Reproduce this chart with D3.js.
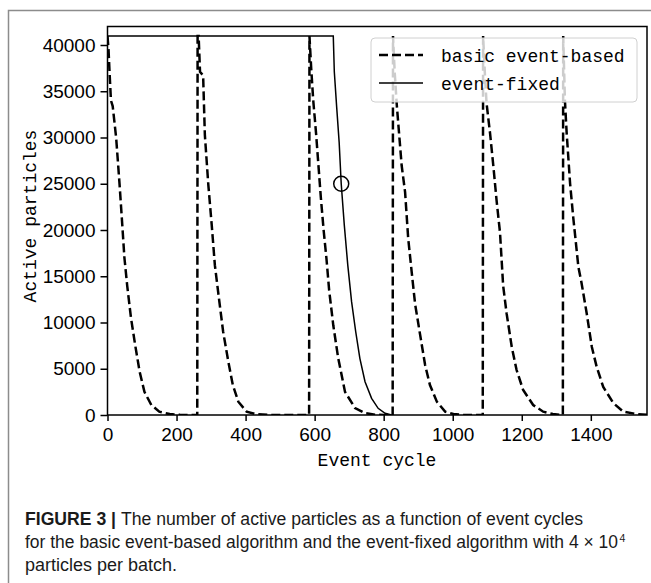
<!DOCTYPE html>
<html>
<head>
<meta charset="UTF-8">
<style>
  body { margin: 0; background: #fff; }
  svg { display: block; }
</style>
</head>
<body>
<svg></svg>
<script src="https://d3js.org/d3.v7.min.js"></script>
<script>

// ---- data ----
const basicCycles = [0, 3, 6, 10, 15, 25, 35, 42, 49, 57, 68, 80, 93, 107, 127, 150, 180, 210, 260,
  261, 264, 268, 277, 282, 292, 302, 311, 324, 335, 350, 363, 379, 403, 432, 470, 584,
  585, 590, 596, 604, 612, 618, 626, 634, 642, 654, 668, 688, 717, 746, 775, 800, 826,
  827, 832, 838, 852, 862, 871, 881, 891, 905, 920, 934, 954, 978, 1002, 1030, 1087,
  1088, 1093, 1098, 1108, 1118, 1127, 1137, 1146, 1156, 1171, 1185, 1204, 1233, 1262, 1290, 1318, 1319,
  1320, 1325, 1330, 1340, 1349, 1364, 1373, 1388, 1403, 1417, 1436, 1465, 1494, 1533, 1563];
const basicCounts = [40960, 39500, 37000, 34000, 33400, 30000, 24900, 21000, 17000, 14000, 10500, 7600, 4700, 2500, 1080, 360, 100, 20, 0,
  40960, 40960, 37100, 36700, 30300, 24900, 20500, 16200, 12250, 9000, 5760, 3240, 1440, 360, 80, 10, 0,
  40960, 37500, 34000, 30500, 26500, 23500, 20000, 17000, 13500, 9700, 6200, 2500, 750, 200, 40, 5, 0,
  40960, 37000, 33500, 27000, 24100, 19100, 15500, 12000, 8800, 5400, 3240, 1440, 360, 100, 10, 0,
  40960, 37000, 33700, 30500, 26800, 23200, 19700, 14000, 11000, 7350, 4860, 2700, 1080, 360, 100, 5, 0,
  40960, 34000, 30500, 25000, 21400, 16000, 14300, 11000, 7350, 5200, 3030, 1300, 360, 100, 20];

const fixedCycles = [0, 654, 657, 664, 671, 677, 686, 696, 707, 719, 731, 746, 765, 784, 804, 823];
const fixedCounts = [40960, 40960, 37100, 33200, 29500, 25000, 20500, 16200, 12250, 9000, 6130, 3600, 1800, 720, 180, 0];

const markerPoint = [677, 25000];
const xTicks = [0, 200, 400, 600, 800, 1000, 1200, 1400];
const yTicks = [0, 5000, 10000, 15000, 20000, 25000, 30000, 35000, 40000];
const seriesNames = ["basic event-based", "event-fixed"];
const captionLines = [
  ["FIGURE 3 | ", "The number of active particles as a function of event cycles"],
  ["", "for the basic event-based algorithm and the event-fixed algorithm with 4 \u00d7 10"],
  ["", "particles per batch."]
];

let width = 651, height = 583;
let svg = d3.select("svg").attr("width", width).attr("height", height);

let plot = {left: 107.5, right: 647, top: 26.5, bottom: 415};

let x = d3.scaleLinear().domain([0, 1561]).range([plot.left, 646.4]);
let y = d3.scaleLinear().domain([0, 42000]).range([plot.bottom, plot.top]);

// figure frame (top and left rule)
svg.append("path")
  .attr("d", `M8.5,${height} V10.5 H${width}`)
  .attr("fill", "none")
  .attr("stroke", "#8c8c8c")
  .attr("stroke-width", 1.5);

let line = d3.line().x(d => x(d[0])).y(d => y(d[1]));

let basic = basicCycles.map((c, i) => [c, basicCounts[i]]);
let fixed = fixedCycles.map((c, i) => [c, fixedCounts[i]]);

svg.append("defs").append("clipPath").attr("id", "clip")
  .append("rect")
  .attr("x", plot.left).attr("y", plot.top)
  .attr("width", plot.right - plot.left).attr("height", plot.bottom - plot.top);

let g = svg.append("g").attr("clip-path", "url(#clip)");

g.append("path")
  .datum(basic)
  .attr("d", line)
  .attr("fill", "none")
  .attr("stroke", "#000")
  .attr("stroke-width", 2.5)
  .attr("stroke-dasharray", "9,4");

g.append("path")
  .datum(fixed)
  .attr("d", line)
  .attr("fill", "none")
  .attr("stroke", "#000")
  .attr("stroke-width", 1.5);

g.append("circle")
  .attr("cx", x(markerPoint[0]))
  .attr("cy", y(markerPoint[1]))
  .attr("r", 7.5)
  .attr("fill", "none")
  .attr("stroke", "#000")
  .attr("stroke-width", 1.5);

// axes
let xAxis = svg.append("g")
  .attr("transform", `translate(0,${plot.bottom})`)
  .call(d3.axisBottom(x).tickValues(xTicks).tickSize(6).tickPadding(7).tickFormat(d3.format("d")));
let yAxis = svg.append("g")
  .attr("transform", `translate(${plot.left},0)`)
  .call(d3.axisLeft(y).tickValues(yTicks).tickSize(7).tickPadding(5).tickFormat(d3.format("d")));

[xAxis, yAxis].forEach(a => {
  a.select(".domain").remove();
  a.selectAll("line").attr("stroke", "#000").attr("stroke-width", 1.5);
  a.selectAll("text")
    .attr("fill", "#000")
    .style("font-family", "'Liberation Sans', Arial, sans-serif")
    .style("font-size", "19px");
});

svg.append("rect")
  .attr("x", plot.left).attr("y", plot.top)
  .attr("width", plot.right - plot.left).attr("height", plot.bottom - plot.top)
  .attr("fill", "none")
  .attr("stroke", "#000")
  .attr("stroke-width", 1.5);

// axis titles
const mono = "'Liberation Mono', 'DejaVu Sans Mono', monospace";
svg.append("text")
  .attr("x", 377).attr("y", 466)
  .attr("text-anchor", "middle")
  .style("font-family", mono).style("font-size", "18px")
  .text("Event cycle");

svg.append("text")
  .attr("transform", "rotate(-90)")
  .attr("x", -216).attr("y", 36)
  .attr("text-anchor", "middle")
  .style("font-family", mono).style("font-size", "18px")
  .text("Active particles");

// legend
let lg = svg.append("g");
lg.append("rect")
  .attr("x", 371).attr("y", 38).attr("width", 266).attr("height", 64).attr("rx", 4)
  .attr("fill", "#fff").attr("fill-opacity", 0.8)
  .attr("stroke", "#d0d0d0").attr("stroke-width", 1);
seriesNames.forEach((name, i) => {
  let ly = 55 + i * 28;
  lg.append("line")
    .attr("x1", 379).attr("x2", 423).attr("y1", ly).attr("y2", ly)
    .attr("stroke", "#000")
    .attr("stroke-width", i === 0 ? 2.5 : 1.5)
    .attr("stroke-dasharray", i === 0 ? "9,4" : null);
  lg.append("text")
    .attr("x", 441).attr("y", ly + 7)
    .style("font-family", mono).style("font-size", "18px")
    .text(name);
});

// caption
const capWidths = [558, 593, 152];
const capBase = [524.5, 548, 571];
const capFont = "'Liberation Sans', Arial, sans-serif";
captionLines.forEach((parts, i) => {
  let t = svg.append("text")
    .attr("x", 25).attr("y", capBase[i])
    .attr("textLength", capWidths[i])
    .attr("lengthAdjust", "spacingAndGlyphs")
    .attr("fill", "#1a1a1a")
    .style("font-family", capFont)
    .style("font-size", "17.5px");
  if (parts[0]) t.append("tspan").attr("font-weight", "bold").text(parts[0]);
  t.append("tspan").text(parts[1]);
});
// superscript exponent after "10"
svg.append("text")
  .attr("x", 25 + capWidths[1] + 1.5).attr("y", capBase[1] - 6.5)
  .attr("fill", "#1a1a1a")
  .style("font-family", capFont)
  .style("font-size", "10.5px")
  .text("4");

</script>
</body>
</html>
